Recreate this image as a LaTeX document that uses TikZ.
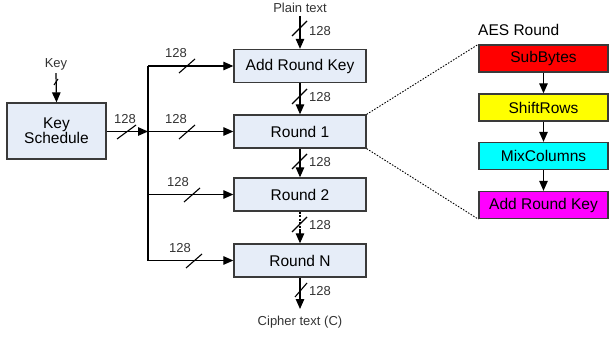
\documentclass[tikz,border=0pt]{standalone}
\usepackage{fontspec}
\setmainfont{Liberation Sans}
\usetikzlibrary{arrows.meta}
\definecolor{boxfill}{HTML}{E6EDF8}
\definecolor{boxline}{HTML}{3A3A3A}
\definecolor{sbred}{HTML}{FF0000}
\definecolor{sryellow}{HTML}{FFFF00}
\definecolor{mccyan}{HTML}{00FFFF}
\definecolor{akmagenta}{HTML}{FF00FF}
\begin{document}
\begin{tikzpicture}[x=1pt,y=-1pt,
  blk/.style={draw=boxline,line width=1.3pt,fill=boxfill,minimum width=132pt,minimum height=33pt,inner sep=0pt,font=\fontsize{15.5}{17}\selectfont},
  stage/.style={draw=boxline,line width=1.3pt,minimum width=129pt,minimum height=27pt,inner sep=0pt,font=\fontsize{15.5}{17}\selectfont},
  lbl/.style={inner sep=0pt,font=\fontsize{13}{15}\selectfont,text=black!80},
  wire/.style={line width=1.2pt,-{Triangle[length=10pt,width=8.5pt]}},
  bus/.style={line width=1.2pt},
  slash/.style={line width=1.1pt},
  zoomline/.style={line width=0.9pt,dash pattern=on 1.5pt off 1.5pt}]
\useasboundingbox (0,0) rectangle (610,337);

% main datapath blocks
\node[blk,minimum width=99pt,minimum height=56pt,align=center] (ks) at (56.5,131) {Key\\[-2pt]Schedule};
\node[blk] (ark) at (300,66) {Add Round Key};
\node[blk] (r1) at (300,131.5) {Round 1};
\node[blk] (r2) at (300,194.5) {Round 2};
\node[blk] (rn) at (300,260.5) {Round N};

% key input
\node[lbl] (key) at (56,64) {Key};
\draw[wire] (key.south) ++(0,3) coordinate (k0) -- (ks.north);
\draw[slash] (54,85) -- (58,79);

% plaintext input and ciphertext output
\node[lbl] (pt) at (300,8) {Plain text};
\coordinate (p0) at (300,16);
\draw[wire] (p0) -- (ark.north);
\draw[slash] (292,36) -- (307,21);
\node[lbl] at (320,31) {128};

\draw[wire] (ark.south) -- (r1.north);
\draw[slash] (292,104) -- (307,89);
\node[lbl] at (320,97) {128};

\draw[wire] (r1.south) -- (r2.north);
\draw[slash] (292,169) -- (307,154);
\node[lbl] at (320,162) {128};

\draw[line width=1.2pt,dash pattern=on 2pt off 1.5pt] (r2.south) -- ++(0,18) coordinate (d1);
\draw[wire] (d1) -- (rn.north);
\draw[slash] (292,232) -- (307,217);
\node[lbl] at (320,225) {128};

\node[lbl] (ct) at (300,322) {Cipher text (C)};
\coordinate (c1) at (300,309);
\draw[wire] (rn.south) -- (c1);
\draw[slash] (295,297) -- (307,283);
\node[lbl] at (320,291) {128};

% round-key distribution bus
\coordinate (b0) at (148,66);
\coordinate (b1) at (148,131.5);
\coordinate (b2) at (148,194.5);
\coordinate (b3) at (148,260.5);
\draw[wire] (ks.east |- b1) -- (b1);
\draw[slash] (117,139) -- (136,125);
\node[lbl] at (125,119) {128};
\draw[bus] (b0) -- (b3);
\draw[wire] (b0) -- (ark.west);
\draw[wire] (b1) -- (r1.west);
\draw[wire] (b2) -- (r2.west);
\draw[wire] (b3) -- (rn.west);
\draw[slash] (179,73) -- (195,59);
\node[lbl] at (176,53) {128};
\draw[slash] (179,139) -- (195,125);
\node[lbl] at (176,119) {128};
\draw[slash] (184,202) -- (200,188);
\node[lbl] at (178,182) {128};
\draw[slash] (186,268) -- (202,254);
\node[lbl] at (180,248) {128};

% expanded view of one round
\node[inner sep=0pt,anchor=west,font=\fontsize{15.5}{17}\selectfont] (aes) at (478,30) {AES Round};
\node[stage,fill=sbred] (sb) at (543.5,58.5) {SubBytes};
\node[stage,fill=sryellow] (sr) at (543.5,107.5) {ShiftRows};
\node[stage,fill=mccyan] (mc) at (543.5,156) {MixColumns};
\node[stage,fill=akmagenta] (ak) at (543.5,205) {Add Round Key};
\draw[wire] (sb) -- (sr);
\draw[wire] (sr) -- (mc);
\draw[wire] (mc) -- (ak);

\draw[zoomline] (r1.north east) -- (sb.north west);
\draw[zoomline] (r1.south east) -- (ak.south west);
\end{tikzpicture}
\end{document}
